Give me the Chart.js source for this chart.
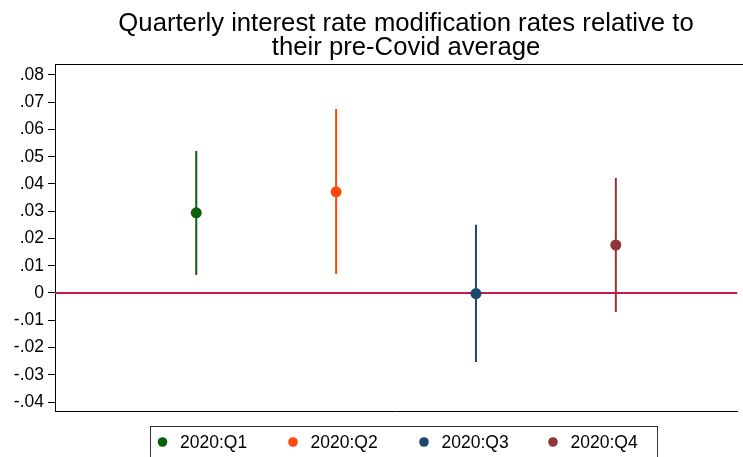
<!DOCTYPE html>
<html>
<head>
<meta charset="utf-8">
<script src="https://cdn.jsdelivr.net/npm/chart.js@4/dist/chart.umd.min.js"></script>
<style>
  html, body { margin: 0; padding: 0; background: #fff; overflow: hidden; }
  #wrap { width: 743px; height: 457px; position: relative; }
</style>
</head>
<body>
<div id="wrap"><canvas id="c" width="743" height="457"></canvas></div>
<script>
// Quarterly estimates with 95% confidence bounds
const quarters = ["2020:Q1", "2020:Q2", "2020:Q3", "2020:Q4"];
const estimates = [0.0294, 0.0371, -0.0002, 0.0176];
const lowerCI = [0.0066, 0.0070, -0.0253, -0.0070];
const upperCI = [0.0521, 0.0675, 0.0250, 0.0422];
const colors = ["#0b5f0b", "#ff4a0a", "#1a4670", "#90353b"];
const yTicks = [-0.04, -0.03, -0.02, -0.01, 0, 0.01, 0.02, 0.03, 0.04, 0.05, 0.06, 0.07, 0.08];
const titleLines = ["Quarterly interest rate modification rates relative to", "their pre-Covid average"];

const FONT = "'Liberation Sans', Arial, Helvetica, sans-serif";
const X_MIN = -0.01;
const X_MAX = 4.87;

function fmtTick(v) {
  if (Math.abs(v) < 1e-9) return "0";
  let s = v.toFixed(2);
  return s.replace(/^(-?)0\./, "$1.");
}

const datasets = [];
// zero reference line
datasets.push({
  type: "line",
  data: [{ x: X_MIN, y: 0 }, { x: X_MAX, y: 0 }],
  borderColor: "#c8174a",
  borderWidth: 2,
  pointRadius: 0,
  order: 10
});
// confidence interval spikes
quarters.forEach((q, i) => {
  datasets.push({
    type: "line",
    data: [{ x: i + 1, y: lowerCI[i] }, { x: i + 1, y: upperCI[i] }],
    borderColor: colors[i],
    borderWidth: 2,
    pointRadius: 0,
    order: 5
  });
});
// point estimates
quarters.forEach((q, i) => {
  datasets.push({
    type: "scatter",
    label: q,
    data: [{ x: i + 1, y: estimates[i] }],
    backgroundColor: colors[i],
    borderColor: colors[i],
    pointRadius: 5.5,
    borderWidth: 0,
    order: 1
  });
});

const decor = {
  id: "decor",
  afterDraw(chart) {
    const ctx = chart.ctx;
    const xs = chart.scales.x;
    const ca = chart.chartArea;
    ctx.save();
    // title centred over the plot region
    const cx = (xs.getPixelForValue(0) + xs.getPixelForValue(5)) / 2;
    ctx.fillStyle = "#000";
    ctx.font = "25.7px " + FONT;
    ctx.textAlign = "center";
    ctx.textBaseline = "alphabetic";
    ctx.fillText(titleLines[0], cx, 31);
    ctx.fillText(titleLines[1], cx, 55);
    // top frame line
    ctx.strokeStyle = "#000";
    ctx.lineWidth = 1;
    ctx.beginPath();
    ctx.moveTo(ca.left, ca.top + 0.5);
    ctx.lineTo(chart.width, ca.top + 0.5);
    ctx.stroke();
    // legend box
    const lx = 150.5, ly = 426.5, lw = 507, lh = 40;
    ctx.strokeStyle = "#333";
    ctx.strokeRect(lx, ly, lw, lh);
    const markX = [162.5, 293, 424, 553];
    ctx.font = "17.5px " + FONT;
    ctx.textAlign = "left";
    ctx.textBaseline = "middle";
    quarters.forEach((q, i) => {
      ctx.fillStyle = colors[i];
      ctx.beginPath();
      ctx.arc(markX[i], 442, 4.8, 0, Math.PI * 2);
      ctx.fill();
      ctx.fillStyle = "#000";
      ctx.fillText(q, markX[i] + 17.5, 443);
    });
    ctx.restore();
  }
};

new Chart(document.getElementById("c"), {
  data: { datasets },
  options: {
    responsive: false,
    animation: false,
    layout: { padding: { top: 64, bottom: 46, left: 0, right: 0 } },
    plugins: { legend: { display: false }, tooltip: { enabled: false }, title: { display: false } },
    scales: {
      x: {
        type: "linear",
        min: X_MIN,
        max: X_MAX,
        ticks: { display: false },
        grid: { display: false },
        border: { display: true, color: "#000", width: 1 },
        afterFit(s) { s.height = 0; }
      },
      y: {
        type: "linear",
        min: -0.0433,
        max: 0.084,
        afterBuildTicks(s) { s.ticks = yTicks.map(v => ({ value: v })); },
        ticks: {
          callback: v => fmtTick(v),
          color: "#000",
          font: { family: FONT, size: 17.5 },
          padding: 4
        },
        grid: { drawOnChartArea: false, drawTicks: true, tickLength: 7, color: "#000", tickWidth: 1 },
        border: { display: true, color: "#000", width: 1 },
        afterFit(s) { s.width = 55; }
      }
    }
  },
  plugins: [decor]
});
</script>
</body>
</html>
